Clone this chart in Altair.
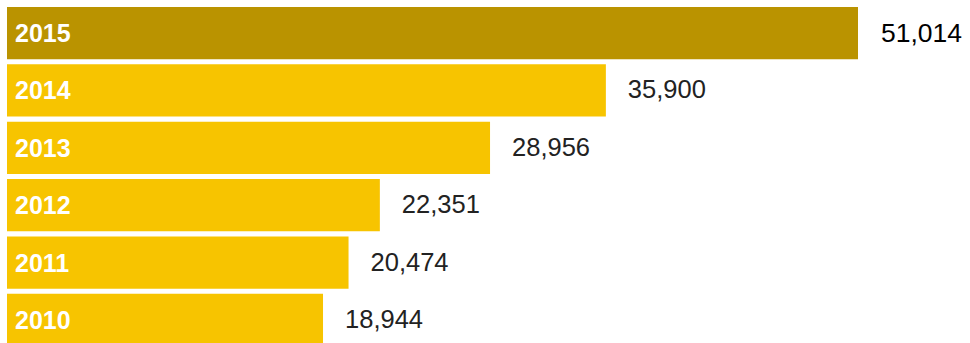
import altair as alt
import pandas as pd

years = ["2015", "2014", "2013", "2012", "2011", "2010"]
values = [51014, 35900, 28956, 22351, 20474, 18944]
highlight_year = "2015"

df = pd.DataFrame({"year": years, "value": values})
df["fill"] = ["#BA9300" if y == highlight_year else "#F7C400" for y in years]

y_enc = alt.Y(
    "year:N",
    sort=years,
    axis=None,
    scale=alt.Scale(range=[7, 346], paddingInner=0.09, paddingOuter=0),
)
x_scale = alt.Scale(domain=[0, 51014], range=[7, 858])

base = alt.Chart(df)

bars = base.mark_bar().encode(
    x=alt.X("value:Q", scale=x_scale, axis=None),
    y=y_enc,
    color=alt.Color("fill:N", scale=None),
)

year_labels = base.mark_text(
    align="left", baseline="middle", dy=1, font="Liberation Sans",
    fontWeight="bold", fontSize=25, color="white",
).encode(
    x=alt.value(15),
    y=y_enc,
    text="year:N",
)

value_labels_other = base.transform_filter(
    alt.datum.year != highlight_year
).mark_text(
    align="left", baseline="middle", dx=22, dy=0, font="Liberation Sans",
    fontWeight="normal", fontSize=25.5, color="#222222",
).encode(
    x=alt.X("value:Q", scale=x_scale),
    y=y_enc,
    text=alt.Text("value:Q", format=","),
)

value_labels_top = base.transform_filter(
    alt.datum.year == highlight_year
).mark_text(
    align="left", baseline="middle", dx=23, dy=1, font="Liberation Sans",
    fontWeight="normal", fontSize=26.5, color="#000000",
).encode(
    x=alt.X("value:Q", scale=x_scale),
    y=y_enc,
    text=alt.Text("value:Q", format=","),
)

chart = alt.layer(bars, year_labels, value_labels_other, value_labels_top).properties(
    width=970, height=343, padding=0,
    autosize=alt.AutoSizeParams(type="none"),
).configure_view(stroke=None)

chart.save("out.html", embed_options={"renderer": "svg", "actions": False})
